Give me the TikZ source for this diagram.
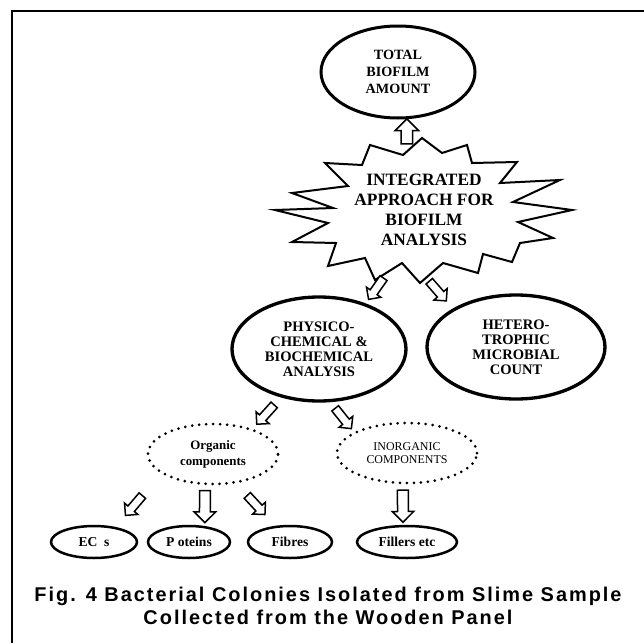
\documentclass[tikz,border=0pt]{standalone}
\usepackage{fontspec}
\setmainfont{Liberation Serif}
\newfontfamily\capfont[LetterSpace=10]{Liberation Sans}
\usetikzlibrary{shapes.geometric,shapes.arrows}

\tikzset{
  bigoval/.style={ellipse, draw, line width=1mm, inner sep=0pt, outer sep=0pt, align=center,
    font=\bfseries\fontsize{12.4}{12.8}\selectfont},
  dotoval/.style={ellipse, draw, line width=0.9mm, line cap=round, dash pattern=on 0pt off 2.1mm,
    inner sep=0pt, outer sep=0pt, align=center, minimum height=18mm},
  smalloval/.style={ellipse, draw, line width=0.75mm, inner sep=0pt, outer sep=0pt,
    minimum height=9.6mm, font=\bfseries\fontsize{11.6}{13}\selectfont},
  fatarrow/.style={single arrow, draw, fill=white, line width=0.45mm, inner sep=1.05mm,
    sloped, allow upside down, single arrow head extend=1.35mm, minimum height=7.8mm},
  longarr/.style={inner sep=1.4mm, single arrow head extend=1.6mm, minimum height=9.6mm},
  uparr/.style={inner sep=1.5mm, single arrow head extend=1.8mm, minimum height=7.5mm},
}

\begin{document}
\begin{tikzpicture}[x=0.3mm, y=-0.3mm]
  \useasboundingbox (0,0) rectangle (644,643);

  % Frame
  \draw[line width=0.6mm] (12,643) -- (12,11) -- (644,11);

  % Top oval
  \node[bigoval, line width=0.9mm, minimum width=46.2mm, minimum height=27.6mm,
    font=\bfseries\fontsize{12.1}{14.5}\selectfont] (total) at (398,72) {TOTAL\\BIOFILM\\AMOUNT};

  % Starburst
  \draw[line width=0.6mm] (370,145) -- (403,155) -- (422,138) -- (442,153) -- (467,145)
    -- (472,163) -- (517,162) -- (500,183) -- (560,180) -- (513,202) -- (572,210)
    -- (518,222) -- (553,238) -- (520,243) -- (512,262) -- (483,254) -- (478,273)
    -- (443,263) -- (420,283) -- (402,263) -- (375,280) -- (365,258) -- (328,266)
    -- (336,243) -- (292,242) -- (328,223) -- (275,210) -- (333,208) -- (292,193)
    -- (348,186) -- (325,163) -- (362,165) -- cycle;
  \node[align=center, inner sep=0pt, minimum width=60mm, minimum height=35.4mm,
    font=\bfseries\fontsize{14.8}{17.2}\selectfont] (star) at (424,210)
    {INTEGRATED\\APPROACH FOR\\BIOFILM\\ANALYSIS};

  % Middle ovals
  \node[bigoval, minimum width=52.2mm, minimum height=31.2mm] (phys) at (319,349)
    {PHYSICO-\\CHEMICAL \&\\BIOCHEMICAL\\ANALYSIS};
  \node[bigoval, minimum width=53.4mm, minimum height=31.2mm] (het) at (516,347)
    {HETERO-\\TROPHIC\\MICROBIAL\\COUNT};

  % Dotted ovals
  \node[dotoval, minimum width=39mm, font=\bfseries\fontsize{11}{13.6}\selectfont] (org) at (213,454)
    {Organic\\components};
  \node[dotoval, minimum width=42mm, font=\fontsize{10.2}{10.8}\selectfont] (inorg) at (407,453)
    {INORGANIC\\COMPONENTS};

  % Bottom ovals
  \node[smalloval, minimum width=25.8mm] (ecs) at (94,542) {EC\ \ s};
  \node[smalloval, minimum width=24.6mm] (prot) at (189,542) {P\ oteins};
  \node[smalloval, minimum width=25.2mm] (fib) at (290,542) {Fibres};
  \node[smalloval, minimum width=30mm] (fill) at (407,542) {Fillers etc};

  % Block arrows
  \path (total.281 |- star.north) -- (total.281) node[fatarrow, uparr, midway] {};
  \path (star.240) -- (phys.44) node[fatarrow, midway] {};
  \path (star.265) -- (het.149) node[fatarrow, midway] {};
  \path (phys.232) -- (org.32) node[fatarrow, midway] {};
  \path (phys.281) -- (inorg.159) node[fatarrow, midway] {};
  \path (org.200) -- (ecs.34) node[fatarrow, pos=0.565] {};
  \path (org.255) -- (prot.43) node[fatarrow, longarr, pos=0.464] {};
  \path (org.308) -- (fib.132) node[fatarrow, pos=0.475] {};
  \path (inorg.262) -- (fill.104) node[fatarrow, longarr, pos=0.477] {};

  % Caption
  \node[align=center, font=\capfont\bfseries\fontsize{17}{19.6}\selectfont] (cap) at (328,606)
    {Fig. 4 Bacterial Colonies Isolated from Slime Sample\\Collected from the Wooden Panel};
\end{tikzpicture}
\end{document}
